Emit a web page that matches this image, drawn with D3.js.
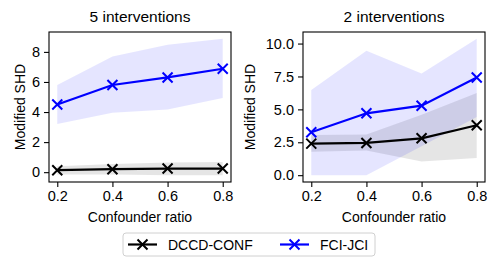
<!DOCTYPE html>
<html>
<head>
<meta charset="utf-8">
<script src="https://cdn.jsdelivr.net/npm/d3@7"></script>
<style>
  body { margin: 0; background: #fff; }
  text { font-family: "Liberation Sans", Arial, sans-serif; fill: #000; }
</style>
</head>
<body>
<div id="chart"></div>
<script>
// confounder ratios on the x axis
const ratios = [0.2, 0.4, 0.6, 0.8];

// panel 1: 5 interventions
const dccd5 = [0.13, 0.2, 0.24, 0.24];
const dccd5Lo = [-0.15, -0.15, -0.2, -0.2];
const dccd5Hi = [0.4, 0.55, 0.65, 0.68];
const fci5 = [4.5, 5.8, 6.3, 6.88];
const fci5Lo = [3.2, 3.95, 4.17, 4.94];
const fci5Hi = [5.8, 7.7, 8.48, 8.87];

// panel 2: 2 interventions
const dccd2 = [2.4, 2.45, 2.8, 3.79];
const dccd2Lo = [1.78, 1.87, 1.04, 1.3];
const dccd2Hi = [3.06, 3.1, 4.6, 6.24];
const fci2 = [3.26, 4.7, 5.28, 7.42];
const fci2Lo = [0, 0, 2.2, 4.42];
const fci2Hi = [6.47, 9.45, 7.73, 10.36];

const yTicks5 = [0, 2, 4, 6, 8];
const yTicks2 = [0, 2.5, 5, 7.5, 10];

const titles = ["5 interventions", "2 interventions"];
const seriesNames = ["DCCD-CONF", "FCI-JCI"];
const colors = ["#000000", "#0000ff"];

var W = 498, H = 264;
var svg = d3.select("#chart").append("svg")
    .attr("width", W).attr("height", H);

const panels = [
    {left: 49, title: titles[0], ticks: yTicks5, fmt: d3.format("d"), labX: -24,
     series: [{v: dccd5, lo: dccd5Lo, hi: dccd5Hi}, {v: fci5, lo: fci5Lo, hi: fci5Hi}]},
    {left: 303, title: titles[1], ticks: yTicks2, fmt: d3.format(".1f"), labX: -48,
     series: [{v: dccd2, lo: dccd2Lo, hi: dccd2Hi}, {v: fci2, lo: fci2Lo, hi: fci2Hi}]}
];

var plotTop = 32, pw = 182, ph = 150;

function xMarker(g, x, y, color) {
    var s = 5;
    g.append("path")
        .attr("d", `M${x - s},${y - s}L${x + s},${y + s}M${x - s},${y + s}L${x + s},${y - s}`)
        .attr("stroke", color).attr("stroke-width", 2).attr("fill", "none");
}

panels.forEach((p) => {
    const g = svg.append("g").attr("transform", `translate(${p.left},${plotTop})`);

    // matplotlib-style 5% margins
    const xr = d3.extent(ratios);
    const xm = (xr[1] - xr[0]) * 0.05;
    const x = d3.scaleLinear().domain([xr[0] - xm, xr[1] + xm]).range([0, pw]);

    let all = [];
    p.series.forEach((s) => { all = all.concat(s.lo, s.hi, s.v); });
    const yr = d3.extent(all);
    const ym = (yr[1] - yr[0]) * 0.05;
    const y = d3.scaleLinear().domain([yr[0] - ym, yr[1] + ym]).range([ph, 0]);

    // bands
    p.series.forEach((s, i) => {
        const area = d3.area()
            .x((d, k) => x(ratios[k]))
            .y0((d, k) => y(s.lo[k]))
            .y1((d, k) => y(s.hi[k]));
        g.append("path").datum(s.v)
            .attr("d", area)
            .attr("fill", colors[i])
            .attr("fill-opacity", 0.1);
    });

    // lines + markers
    p.series.forEach((s, i) => {
        const line = d3.line().x((d, k) => x(ratios[k])).y((d) => y(d));
        g.append("path").datum(s.v)
            .attr("d", line)
            .attr("fill", "none")
            .attr("stroke", colors[i])
            .attr("stroke-width", 2.2);
        s.v.forEach((d, k) => xMarker(g, x(ratios[k]), y(d), colors[i]));
    });

    // axes
    const xAxis = g.append("g").attr("transform", `translate(0,${ph})`)
        .call(d3.axisBottom(x).tickValues(ratios).tickFormat(d3.format(".1f")).tickSize(5).tickPadding(4));
    const yAxis = g.append("g")
        .call(d3.axisLeft(y).tickValues(p.ticks).tickFormat(p.fmt).tickSize(5).tickPadding(4));
    [xAxis, yAxis].forEach((a) => {
        a.select(".domain").remove();
        a.selectAll("line").attr("stroke", "#000").attr("stroke-width", 1.1);
        a.selectAll("text").style("font-size", "14.5px")
            .style("font-family", "Liberation Sans, Arial, sans-serif").attr("fill", "#000");
    });

    g.append("rect").attr("width", pw).attr("height", ph)
        .attr("fill", "none").attr("stroke", "#000").attr("stroke-width", 1.1);

    g.append("text").attr("x", pw / 2).attr("y", -10)
        .attr("text-anchor", "middle").style("font-size", "15.5px").text(p.title);
    g.append("text").attr("x", pw / 2).attr("y", 190)
        .attr("text-anchor", "middle").style("font-size", "14px").text("Confounder ratio");
    g.append("text")
        .attr("transform", `translate(${p.labX},${ph / 2}) rotate(-90)`)
        .attr("text-anchor", "middle").style("font-size", "14px").text("Modified SHD");
});

// legend
const leg = svg.append("g");
leg.append("rect").attr("x", 123).attr("y", 233).attr("width", 252).attr("height", 23)
    .attr("rx", 3).attr("fill", "#fff").attr("stroke", "#d0d0d0");
const legX = [128, 280];
seriesNames.forEach((n, i) => {
    leg.append("line").attr("x1", legX[i]).attr("x2", legX[i] + 29)
        .attr("y1", 244.5).attr("y2", 244.5)
        .attr("stroke", colors[i]).attr("stroke-width", 2.2);
    xMarker(leg, legX[i] + 14.5, 244.5, colors[i]);
    leg.append("text").attr("x", legX[i] + 40).attr("y", 249.5)
        .style("font-size", "14px").text(n);
});
</script>
</body>
</html>
